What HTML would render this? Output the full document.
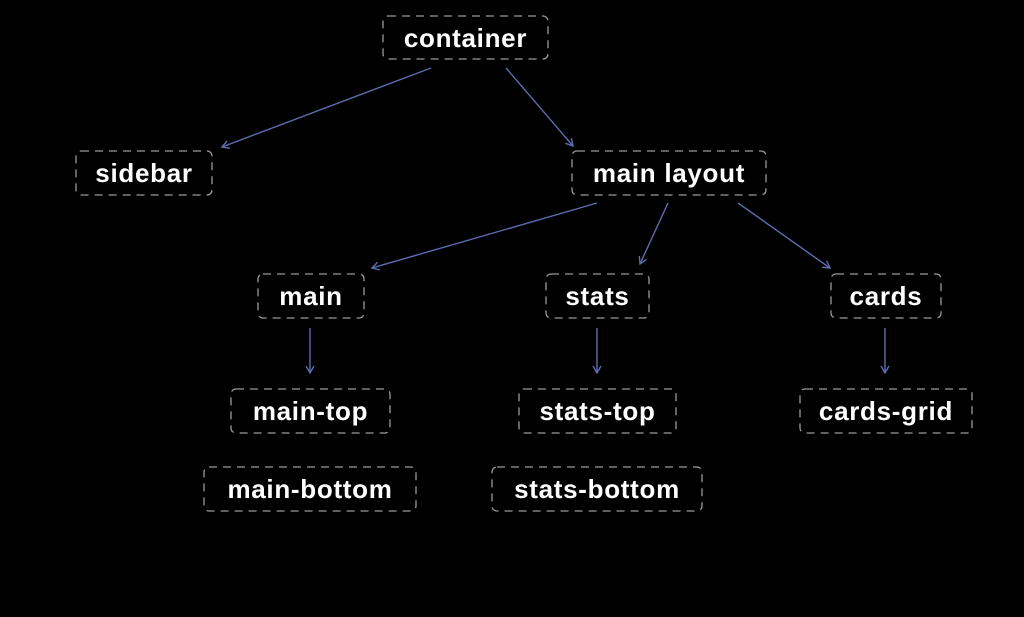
<!DOCTYPE html>
<html><head><meta charset="utf-8"><style>
html,body{margin:0;padding:0;background:#000;}
svg{display:block}
text{font-family:"Liberation Sans",sans-serif;font-weight:bold;font-size:26px;letter-spacing:0.7px;fill:#fff;text-anchor:middle;dominant-baseline:central}
rect{fill:none;stroke:#9a9a9a;stroke-width:1.3;stroke-dasharray:8 6}
line{stroke:#5c6cae;stroke-width:1.4}
</style></head><body>
<svg width="1024" height="617" viewBox="0 0 1024 617">
<defs><marker id="a" markerWidth="10" markerHeight="10" refX="8" refY="5" orient="auto" markerUnits="userSpaceOnUse"><path d="M1,1 L8,5 L1,9" fill="none" stroke="#5c6cae" stroke-width="1.4"/></marker></defs>
<rect x="383" y="16" width="165" height="43" rx="5"/><text x="465.5" y="38">container</text>
<rect x="76" y="151" width="136" height="44" rx="5"/><text x="144" y="173">sidebar</text>
<rect x="572" y="151" width="194" height="44" rx="5"/><text x="669" y="173">main layout</text>
<rect x="258" y="274" width="106" height="44" rx="5"/><text x="311" y="296">main</text>
<rect x="546" y="274" width="103" height="44" rx="5"/><text x="597.5" y="296">stats</text>
<rect x="831" y="274" width="110" height="44" rx="5"/><text x="886" y="296">cards</text>
<rect x="231" y="389" width="159" height="44" rx="5"/><text x="310.5" y="411">main-top</text>
<rect x="519" y="389" width="157" height="44" rx="5"/><text x="597.5" y="411">stats-top</text>
<rect x="800" y="389" width="172" height="44" rx="5"/><text x="886" y="411">cards-grid</text>
<rect x="204" y="467" width="212" height="44" rx="5"/><text x="310" y="489">main-bottom</text>
<rect x="492" y="467" width="210" height="44" rx="5"/><text x="597" y="489">stats-bottom</text>
<line x1="431" y1="68" x2="222" y2="147" marker-end="url(#a)"/>
<line x1="506" y1="68" x2="573" y2="146" marker-end="url(#a)"/>
<line x1="597" y1="203" x2="372" y2="268" marker-end="url(#a)"/>
<line x1="668" y1="203" x2="640" y2="264" marker-end="url(#a)"/>
<line x1="738" y1="203" x2="830" y2="268" marker-end="url(#a)"/>
<line x1="310" y1="328" x2="310" y2="373" marker-end="url(#a)"/>
<line x1="597" y1="328" x2="597" y2="373" marker-end="url(#a)"/>
<line x1="885" y1="328" x2="885" y2="373" marker-end="url(#a)"/>
</svg>
</body></html>
